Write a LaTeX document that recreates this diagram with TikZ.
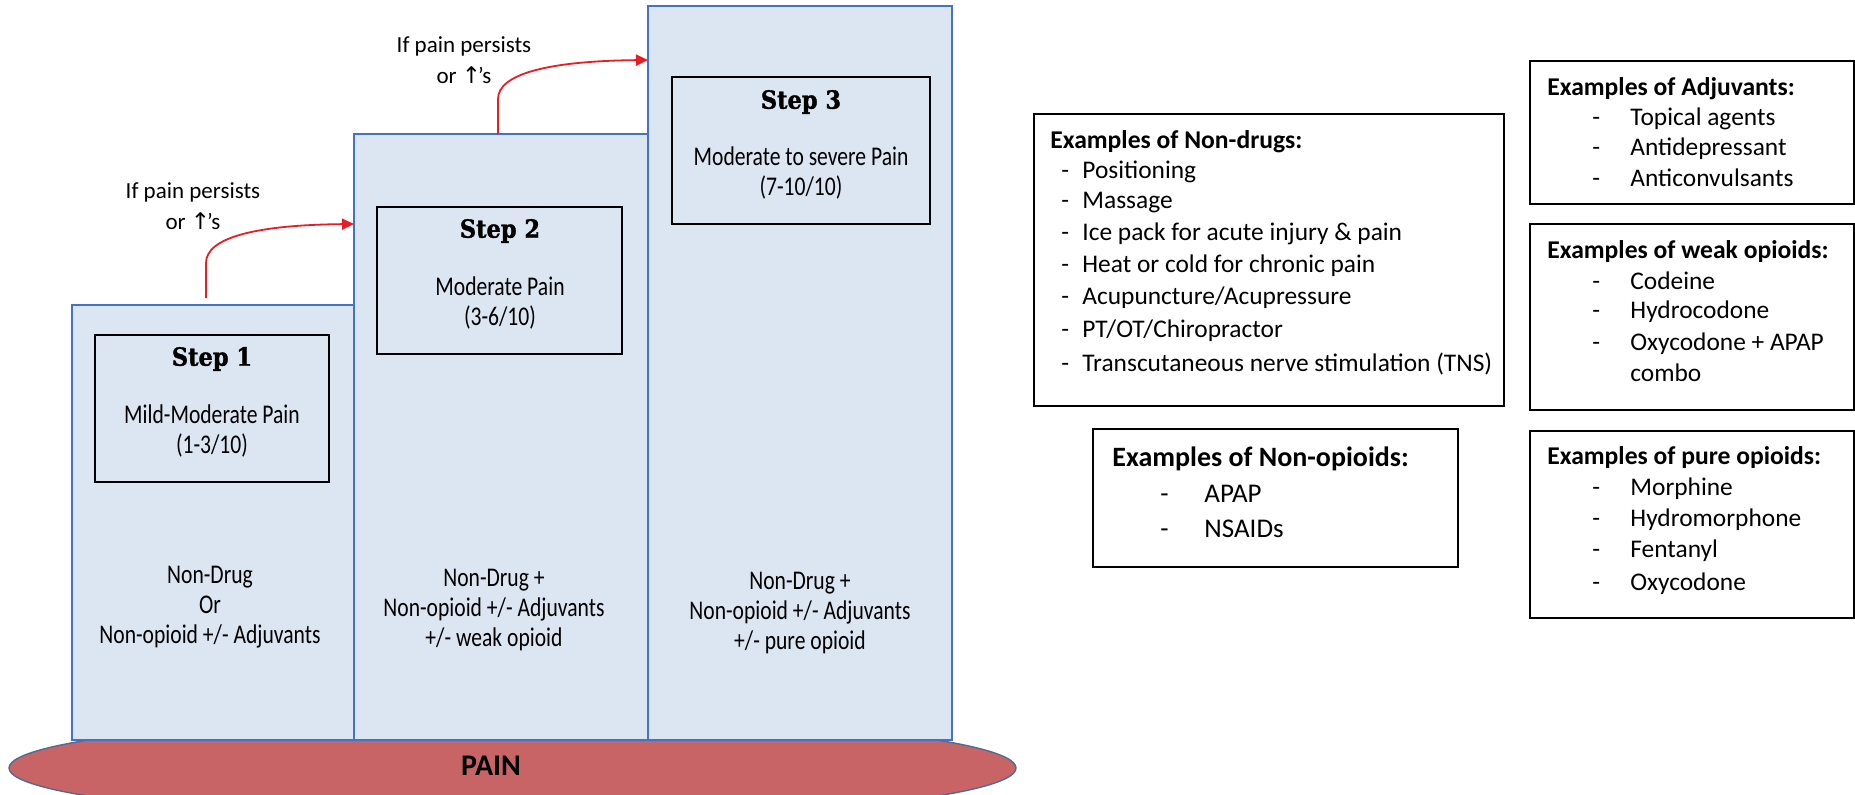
\documentclass[tikz,border=0pt]{standalone}
\usepackage{fontspec}
\setmainfont{Carlito}
\newfontfamily\stepfont[FakeStretch=0.8]{Carlito}
\newfontfamily\steptitlefont[BoldFeatures={FakeBold=1.4,FakeStretch=0.9}]{DejaVu Serif}
\newfontfamily\symfont{DejaVu Sans}
\usetikzlibrary{arrows.meta,fit,shapes.geometric}
\definecolor{stepfill}{RGB}{220,230,242}
\definecolor{stepline}{RGB}{68,114,196}
\definecolor{painfill}{RGB}{201,100,102}
\definecolor{painline}{RGB}{80,108,145}
\definecolor{arrowred}{RGB}{232,30,37}
\tikzset{
  stepcol/.style={draw=stepline, fill=stepfill, line width=0.8pt, inner sep=0pt},
  stepbox/.style={draw=black, line width=1pt, inner sep=0pt},
  exbox/.style={draw=black, line width=1pt, inner sep=0pt, fill=white},
  steptitle/.style={font=\steptitlefont\bfseries\fontsize{12.5}{14}\selectfont, inner sep=0pt},
  steptext/.style={font=\stepfont\fontsize{13.5}{15}\selectfont, align=center, inner sep=0pt},
  persist/.style={font=\fontsize{11.5}{15.5}\selectfont, align=center, inner sep=0pt},
  extitle/.style={font=\bfseries\fontsize{12.8}{14}\selectfont, anchor=base west, inner sep=0pt},
  exitem/.style={font=\fontsize{12.7}{14}\selectfont, anchor=base west, inner sep=0pt},
  extitlebig/.style={font=\bfseries\fontsize{14}{16}\selectfont, anchor=base west, inner sep=0pt},
  exitembig/.style={font=\fontsize{13.5}{16}\selectfont, anchor=base west, inner sep=0pt},
  redarrow/.style={draw=arrowred, line width=0.9pt, -{Triangle[length=6pt,width=5.5pt]}},
  painell/.style={ellipse, draw=painline, fill=painfill, line width=0.7pt, inner sep=0pt,
    minimum width=503.5pt, minimum height=52pt},
  paintext/.style={font=\bfseries\fontsize{15}{17}\selectfont, inner sep=0pt},
}
\begin{document}
\begin{tikzpicture}[x=0.5pt,y=-0.5pt]
\useasboundingbox (0,0) rectangle (1855,794);
\fill[white] (0,0) rectangle (1855,794);

% base ellipse
\node[painell] (pain) at (512.5,768) {};
\node[paintext] (paintxt) at (491,766) {PAIN};

% step columns
\node[stepcol, fit={(72,305)(354,740)}] (s1) {};
\node[stepcol, fit={(354,134)(648,740)}] (s2) {};
\node[stepcol, fit={(648,6)(952,740)}] (s3) {};

% inner boxes
\node[stepbox, fit={(95,335)(329,482)}] (b1) {};
\node[stepbox, fit={(377,207)(622,354)}] (b2) {};
\node[stepbox, fit={(672,77)(930,224)}] (b3) {};

\node[steptitle] (t1) at (212,359) {Step 1};
\node[steptitle] (t2) at (500,231) {Step 2};
\node[steptitle] (t3) at (801,102) {Step 3};

\node[steptext] (d1) at (212,431) {Mild-Moderate Pain\\(1-3/10)};
\node[steptext] (d2) at (500,303) {Moderate Pain\\(3-6/10)};
\node[steptext] (d3) at (801,173) {Moderate to severe Pain\\(7-10/10)};

\node[steptext] (m1) at (210,607) {Non-Drug\\Or\\Non-opioid +/- Adjuvants};
\node[steptext] (m2) at (494,610) {Non-Drug +\\Non-opioid +/- Adjuvants\\+/- weak opioid};
\node[steptext] (m3) at (800,613) {Non-Drug +\\Non-opioid +/- Adjuvants\\+/- pure opioid};

% arrows
\coordinate (a1s) at (206,298);
\coordinate (a1e) at (354,224);
\draw[redarrow] (a1s) -- ++(0,-35) .. controls +(0,-25) and +(-100,1) .. (a1e);
\coordinate (a2s) at (498,134);
\coordinate (a2e) at (648,60);
\draw[redarrow] (a2s) -- ++(0,-35) .. controls +(0,-25) and +(-100,1) .. (a2e);

\node[persist] (p1) at (193,206) {If pain persists\\or {\symfont ↑}\kern-1.5pt's};
\node[persist] (p2) at (464,60) {If pain persists\\or {\symfont ↑}\kern-1.5pt's};

% Non-drugs box
\node[exbox, fit={(1034,114)(1504,406)}] (nd) {};
\node[extitle] (ndt) at (1050,148) {Examples of Non-drugs:};
\node[exitem] (nd1d) at (1061,178) {-};
\node[exitem] (nd1) at (1082,178) {Positioning};
\node[exitem] (nd2d) at (1061,208) {-};
\node[exitem] (nd2) at (1082,208) {Massage};
\node[exitem] (nd3d) at (1061,240) {-};
\node[exitem] (nd3) at (1082,240) {Ice pack for acute injury \& pain};
\node[exitem] (nd4d) at (1061,272) {-};
\node[exitem] (nd4) at (1082,272) {Heat or cold for chronic pain};
\node[exitem] (nd5d) at (1061,304) {-};
\node[exitem] (nd5) at (1082,304) {Acupuncture/Acupressure};
\node[exitem] (nd6d) at (1061,337) {-};
\node[exitem] (nd6) at (1082,337) {PT/OT/Chiropractor};
\node[exitem] (nd7d) at (1061,371) {-};
\node[exitem] (nd7) at (1082,371) {Transcutaneous nerve stimulation (TNS)};

% Non-opioids box
\node[exbox, fit={(1093,429)(1458,567)}] (no) {};
\node[extitlebig] (not) at (1112,466) {Examples of Non-opioids:};
\node[exitembig] (no1d) at (1160,502) {-};
\node[exitembig] (no1) at (1204,502) {APAP};
\node[exitembig] (no2d) at (1160,537) {-};
\node[exitembig] (no2) at (1204,537) {NSAIDs};

% Adjuvants box
\node[exbox, fit={(1530,61)(1854,204)}] (adj) {};
\node[extitle] (adjt) at (1547,95) {Examples of Adjuvants:};
\node[exitem] (adj1d) at (1592,125) {-};
\node[exitem] (adj1) at (1630,125) {Topical agents};
\node[exitem] (adj2d) at (1592,155) {-};
\node[exitem] (adj2) at (1630,155) {Antidepressant};
\node[exitem] (adj3d) at (1592,186) {-};
\node[exitem] (adj3) at (1630,186) {Anticonvulsants};

% Weak opioids box
\node[exbox, fit={(1530,224)(1854,410)}] (wk) {};
\node[extitle] (wkt) at (1547,258) {Examples of weak opioids:};
\node[exitem] (wk1d) at (1592,289) {-};
\node[exitem] (wk1) at (1630,289) {Codeine};
\node[exitem] (wk2d) at (1592,318) {-};
\node[exitem] (wk2) at (1630,318) {Hydrocodone};
\node[exitem] (wk3d) at (1592,350) {-};
\node[exitem] (wk3) at (1630,350) {Oxycodone + APAP};
\node[exitem] (wk4) at (1630,381) {combo};

% Pure opioids box
\node[exbox, fit={(1530,431)(1854,618)}] (pu) {};
\node[extitle] (put) at (1547,464) {Examples of pure opioids:};
\node[exitem] (pu1d) at (1592,495) {-};
\node[exitem] (pu1) at (1630,495) {Morphine};
\node[exitem] (pu2d) at (1592,526) {-};
\node[exitem] (pu2) at (1630,526) {Hydromorphone};
\node[exitem] (pu3d) at (1592,557) {-};
\node[exitem] (pu3) at (1630,557) {Fentanyl};
\node[exitem] (pu4d) at (1592,590) {-};
\node[exitem] (pu4) at (1630,590) {Oxycodone};
\end{tikzpicture}
\end{document}
